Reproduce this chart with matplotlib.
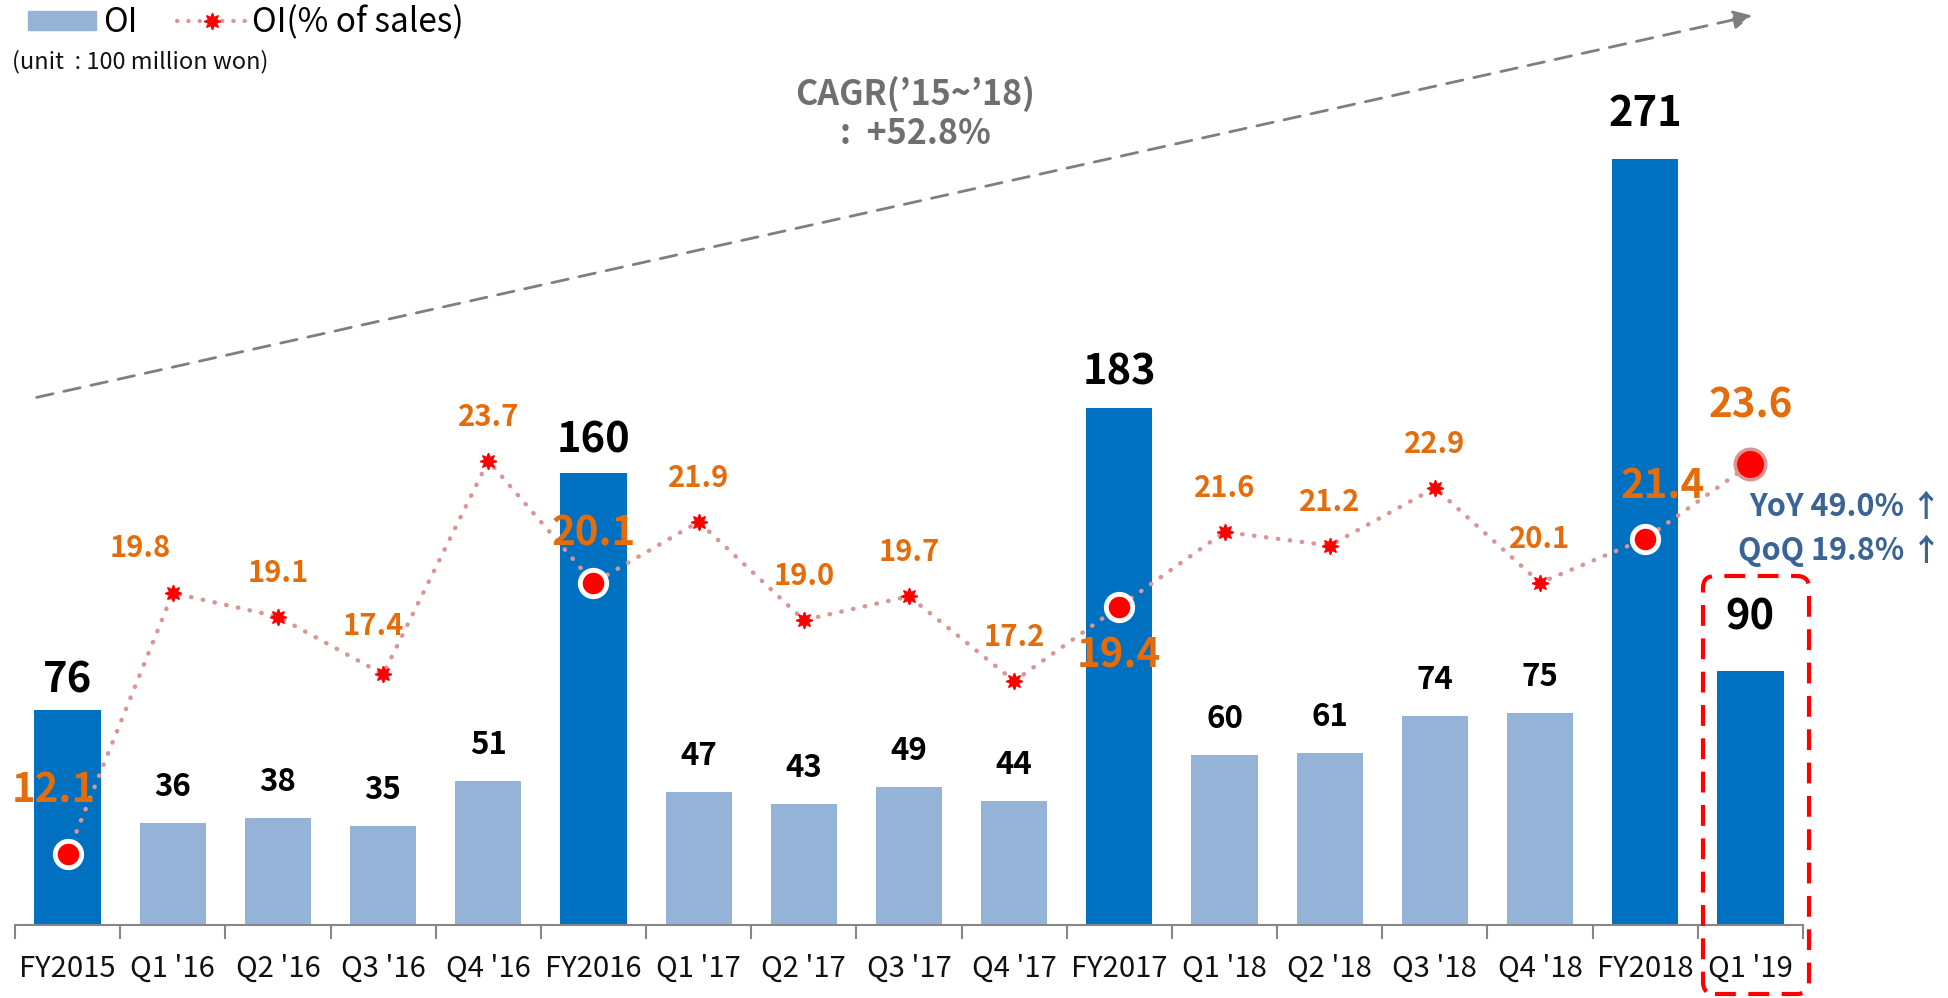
import matplotlib.pyplot as plt
from matplotlib.patches import Patch, FancyBboxPatch, FancyArrowPatch
from matplotlib.lines import Line2D
import numpy as np

plt.rcParams['font.family'] = ['Noto Sans CJK KR', 'DejaVu Sans']

# data (unit: 100 million won)
categories = ["FY2015", "Q1 '16", "Q2 '16", "Q3 '16", "Q4 '16", "FY2016",
              "Q1 '17", "Q2 '17", "Q3 '17", "Q4 '17", "FY2017",
              "Q1 '18", "Q2 '18", "Q3 '18", "Q4 '18", "FY2018", "Q1 '19"]
oi = [76, 36, 38, 35, 51, 160, 47, 43, 49, 44, 183, 60, 61, 74, 75, 271, 90]
oi_pct = [12.1, 19.8, 19.1, 17.4, 23.7, 20.1, 21.9, 19.0, 19.7, 17.2, 19.4,
          21.6, 21.2, 22.9, 20.1, 21.4, 23.6]

BLUE = '#0070C0'
LIGHT = '#95B3D7'
ORANGE = '#E46C0A'
PINK = '#D99694'
GRAY_AX = '#868686'

x = np.arange(len(categories))
annual = np.array([c.startswith('FY') for c in categories])
latest = len(categories) - 1
big = annual.copy()
big[latest] = True

fig = plt.figure(figsize=(19.49, 9.98), dpi=100)
ax = fig.add_axes([15 / 1949, 73 / 998, 1788 / 1949, 925 / 998])

colors = [BLUE if b else LIGHT for b in big]
ax.bar(x, oi, width=0.63, color=colors, zorder=2)
ax.set_xlim(-0.5, len(categories) - 0.5)
ax.set_ylim(0, 327.4)

for s in ['top', 'right', 'left']:
    ax.spines[s].set_visible(False)
ax.spines['bottom'].set_color(GRAY_AX)
ax.spines['bottom'].set_linewidth(1.5)
ax.set_yticks([])
ax.set_xticks(x)
ax.set_xticklabels(categories, fontsize=21, color='#111111')
ax.tick_params(axis='x', which='major', length=0, pad=21)
ax.set_xticks(np.arange(-0.5, len(categories)), minor=True)
ax.tick_params(axis='x', which='minor', length=10, width=1.5, color=GRAY_AX)

# bar value labels (pixel offsets above bar top)
bar_off = {0: 30, 5: 32, 10: 35, 15: 45, 16: 53}
for i, v in enumerate(oi):
    ax.annotate(str(v), (x[i], v), xytext=(0, bar_off.get(i, 36)),
                textcoords='offset pixels', ha='center', va='center',
                fontsize=30 if big[i] else 22.5, fontweight='bold',
                color='black')

# OI % of sales on secondary axis
ax2 = ax.twinx()
ax2.set_ylim(10.0, 37.3)
ax2.axis('off')
ax2.plot(x, oi_pct, color=PINK, lw=3.2, linestyle=(0, (0.1, 2.6)),
         dash_capstyle='round', zorder=3)
q = ~big
ax2.plot(x[q], np.array(oi_pct)[q], linestyle='none', marker=(8, 1, 0),
         markersize=12, color='red', markeredgecolor='red', zorder=4)
ax2.plot(x[annual], np.array(oi_pct)[annual], linestyle='none', marker='o',
         markersize=19, color='red', markeredgecolor='white',
         markeredgewidth=3.5, zorder=4)
ax2.plot([x[latest]], [oi_pct[latest]], linestyle='none', marker='o',
         markersize=22, color='red', markeredgecolor=PINK,
         markeredgewidth=2.5, zorder=4)

pct_off = {0: (-14, 63), 1: (-33, 45), 3: (-10, 48), 5: (0, 49),
           10: (0, -49), 15: (17, 52), 16: (0, 58)}
for i, v in enumerate(oi_pct):
    ax2.annotate(f'{v:.1f}', (x[i], v), xytext=pct_off.get(i, (0, 44)),
                 textcoords='offset pixels', ha='center', va='center',
                 fontsize=29 if big[i] else 21, fontweight='bold',
                 color=ORANGE, zorder=5)

# legend
handles = [Patch(color=LIGHT),
           Line2D([], [], color=PINK, lw=3, linestyle=(0, (0.1, 2.6)),
                  dash_capstyle='round', marker=(8, 1, 0), markersize=12,
                  markerfacecolor='red', markeredgecolor='red')]
fig.legend(handles, ['OI', 'OI(% of sales)'], loc='upper left',
           bbox_to_anchor=(-0.001, 1.025), ncol=2, frameon=False, fontsize=24,
           handlelength=2.05, handleheight=0.5, handletextpad=0.2,
           columnspacing=1.2)
fig.text(12 / 1949, 1 - 62 / 998, '(unit  : 100 million won)', fontsize=17,
         va='center', ha='left', color='#111111')

# CAGR arrow
arrow = FancyArrowPatch((34 / 1949, 1 - 398 / 998), (1755 / 1949, 1 - 15 / 998),
                        transform=fig.transFigure, arrowstyle='-|>',
                        mutation_scale=28, color='#7F7F7F', lw=2,
                        linestyle=(0, (6, 4)))
fig.add_artist(arrow)
fig.text(915 / 1949, 1 - 94 / 998, "CAGR(\u201915~\u201918)", fontsize=24.5,
         fontweight='bold', color='#6F6F6F', ha='center', va='center')
fig.text(915 / 1949, 1 - 134 / 998, ":  +52.8%", fontsize=24.5,
         fontweight='bold', color='#6F6F6F', ha='center', va='center')

# YoY / QoQ
fig.text(1942 / 1949, 1 - 507 / 998, 'YoY 49.0% \u2191', fontsize=22,
         fontweight='bold', color='#3A6496', ha='right', va='center')
fig.text(1942 / 1949, 1 - 551 / 998, 'QoQ 19.8% \u2191', fontsize=22,
         fontweight='bold', color='#3A6496', ha='right', va='center')

# highlight box around latest quarter
box = FancyBboxPatch((17.03, 0.04), 1.06, 4.18,
                     boxstyle='round,pad=0,rounding_size=0.12',
                     transform=fig.dpi_scale_trans, fill=False,
                     edgecolor='red', lw=3, linestyle=(0, (5, 3)))
fig.add_artist(box)

fig.savefig('out.png', dpi=100)
